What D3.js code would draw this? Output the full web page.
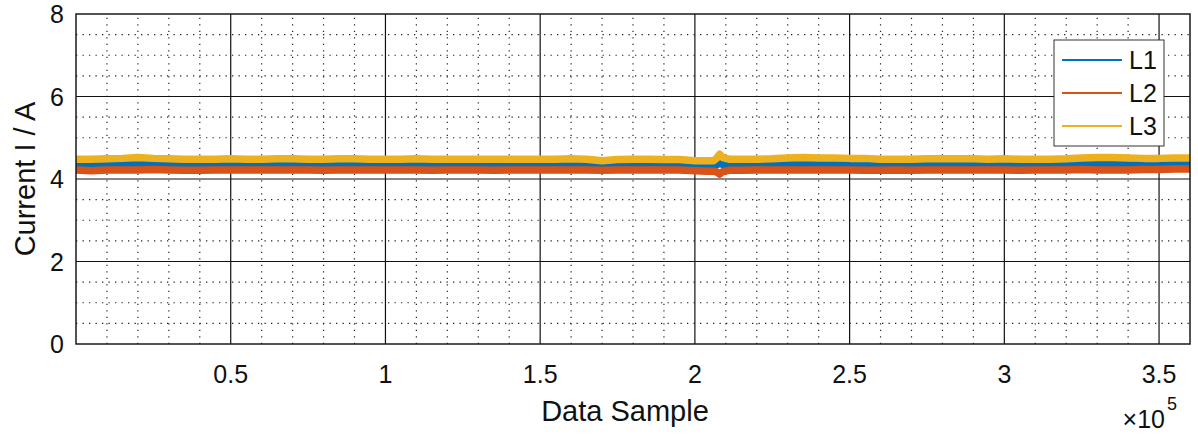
<!DOCTYPE html>
<html>
<head>
<meta charset="utf-8">
<script src="https://cdn.jsdelivr.net/npm/d3@7"></script>
<style>
  html, body { margin: 0; padding: 0; background: #fff; }
  svg { display: block; font-family: "Liberation Sans", Arial, Helvetica, sans-serif; }
</style>
</head>
<body>
<svg id="chart" width="1198" height="434"></svg>
<script>
// Sample index of each reading (denser around the transient near 2.08e5)
const samples = [
  0, 5000, 10000, 15000, 20000, 25000, 30000, 35000, 40000, 45000, 50000,
  55000, 60000, 65000, 70000, 75000, 80000, 85000, 90000, 95000, 100000,
  105000, 110000, 115000, 120000, 125000, 130000, 135000, 140000, 145000, 150000,
  155000, 160000, 165000, 170000, 175000, 180000, 185000, 190000, 195000, 200000,
  204000, 206000, 207000, 208000, 209000, 211000, 215000,
  220000, 225000, 230000, 235000, 240000, 245000, 250000, 255000, 260000, 265000,
  270000, 275000, 280000, 285000, 290000, 295000, 300000, 305000, 310000, 315000,
  320000, 325000, 330000, 335000, 340000, 345000, 350000, 355000, 360000
];

// Phase currents in A
const currentL1 = [
  4.36, 4.36, 4.37, 4.36, 4.37, 4.36, 4.35, 4.34, 4.33, 4.34, 4.35,
  4.36, 4.36, 4.35, 4.36, 4.36, 4.35, 4.36, 4.36, 4.35, 4.35,
  4.35, 4.36, 4.35, 4.35, 4.36, 4.35, 4.35, 4.35, 4.35, 4.35,
  4.35, 4.35, 4.35, 4.34, 4.35, 4.35, 4.35, 4.35, 4.35, 4.33,
  4.32, 4.32, 4.34, 4.41, 4.35, 4.34, 4.35,
  4.35, 4.36, 4.37, 4.37, 4.37, 4.37, 4.36, 4.36, 4.35, 4.36,
  4.35, 4.36, 4.36, 4.36, 4.36, 4.36, 4.37, 4.37, 4.37, 4.37,
  4.37, 4.37, 4.38, 4.38, 4.37, 4.37, 4.38, 4.38, 4.39
];
const currentL2 = [
  4.22, 4.20, 4.22, 4.22, 4.22, 4.23, 4.22, 4.21, 4.21, 4.22, 4.22,
  4.22, 4.22, 4.22, 4.22, 4.22, 4.21, 4.22, 4.22, 4.22, 4.22,
  4.22, 4.22, 4.21, 4.22, 4.22, 4.22, 4.21, 4.22, 4.22, 4.22,
  4.22, 4.22, 4.22, 4.21, 4.22, 4.22, 4.22, 4.22, 4.22, 4.20,
  4.19, 4.19, 4.17, 4.12, 4.18, 4.21, 4.21,
  4.22, 4.22, 4.22, 4.22, 4.22, 4.22, 4.22, 4.21, 4.21, 4.22,
  4.21, 4.22, 4.22, 4.22, 4.22, 4.22, 4.22, 4.21, 4.22, 4.22,
  4.22, 4.23, 4.22, 4.22, 4.22, 4.23, 4.23, 4.24, 4.24
];
const currentL3 = [
  4.48, 4.48, 4.49, 4.50, 4.52, 4.50, 4.49, 4.48, 4.48, 4.48, 4.49,
  4.48, 4.48, 4.49, 4.49, 4.48, 4.48, 4.49, 4.49, 4.48, 4.48,
  4.48, 4.49, 4.48, 4.48, 4.48, 4.48, 4.48, 4.48, 4.48, 4.48,
  4.48, 4.49, 4.48, 4.44, 4.47, 4.48, 4.48, 4.47, 4.47, 4.44,
  4.44, 4.44, 4.50, 4.60, 4.52, 4.48, 4.48,
  4.48, 4.49, 4.51, 4.52, 4.51, 4.51, 4.50, 4.50, 4.48, 4.48,
  4.48, 4.49, 4.49, 4.49, 4.49, 4.48, 4.49, 4.48, 4.48, 4.48,
  4.49, 4.51, 4.52, 4.52, 4.51, 4.50, 4.50, 4.51, 4.51
];

const seriesNames = ["L1", "L2", "L3"];
const seriesColors = ["#0072BD", "#D95319", "#EDB120"];
const seriesValues = [currentL1, currentL2, currentL3];

const xMajorTicks = [50000, 100000, 150000, 200000, 250000, 300000, 350000];
const xTickLabels = ["0.5", "1", "1.5", "2", "2.5", "3", "3.5"];
const yMajorTicks = [0, 2, 4, 6, 8];

const svg = d3.select("#chart");
const margin = { left: 76, right: 8, top: 14, bottom: 90 };
const W = 1198, H = 434;
const x = d3.scaleLinear().domain([0, 360000]).range([margin.left, W - margin.right]);
const y = d3.scaleLinear().domain([0, 8]).range([H - margin.bottom, margin.top]);

const x0 = x.range()[0], x1 = x.range()[1];
const y0 = y.range()[0], y1 = y.range()[1];

// Minor grid (dotted)
const grid = svg.append("g");
const xMinor = d3.range(10000, 360000, 10000).filter(v => v % 50000 !== 0);
const yMinor = d3.range(0.5, 8, 0.5).filter(v => v % 2 !== 0);
grid.selectAll("line.xm").data(xMinor).join("line")
  .attr("x1", d => x(d)).attr("x2", d => x(d))
  .attr("y1", y0).attr("y2", y1)
  .attr("stroke", "#222").attr("stroke-width", 1.2)
  .attr("stroke-dasharray", "1.3,5.2");
grid.selectAll("line.ym").data(yMinor).join("line")
  .attr("y1", d => y(d)).attr("y2", d => y(d))
  .attr("x1", x0).attr("x2", x1)
  .attr("stroke", "#222").attr("stroke-width", 1.2)
  .attr("stroke-dasharray", "1.3,5.2");

// Major grid (solid)
grid.selectAll("line.xM").data(xMajorTicks).join("line")
  .attr("x1", d => x(d)).attr("x2", d => x(d))
  .attr("y1", y0).attr("y2", y1)
  .attr("stroke", "#111").attr("stroke-width", 1.2);
grid.selectAll("line.yM").data(yMajorTicks.slice(1, -1)).join("line")
  .attr("y1", d => y(d)).attr("y2", d => y(d))
  .attr("x1", x0).attr("x2", x1)
  .attr("stroke", "#111").attr("stroke-width", 1.2);

// Data lines
const line = d3.line().x((d, i) => x(samples[i])).y(d => y(d));
svg.append("g").selectAll("path").data(seriesValues).join("path")
  .attr("d", d => line(d))
  .attr("fill", "none")
  .attr("stroke", (d, i) => seriesColors[i])
  .attr("stroke-width", 7.5)
  .attr("stroke-linejoin", "round");

// Axes box
svg.append("rect")
  .attr("x", x0).attr("y", y1)
  .attr("width", x1 - x0).attr("height", y0 - y1)
  .attr("fill", "none").attr("stroke", "#1a1a1a").attr("stroke-width", 1.5);

// Tick labels
const fs = 25;
svg.append("g").selectAll("text").data(xMajorTicks).join("text")
  .attr("x", d => x(d)).attr("y", y0 + 39)
  .attr("text-anchor", "middle")
  .attr("font-size", fs).attr("fill", "#111")
  .text((d, i) => xTickLabels[i]);
svg.append("g").selectAll("text").data(yMajorTicks).join("text")
  .attr("x", x0 - 12).attr("y", d => y(d) + 9)
  .attr("text-anchor", "end")
  .attr("font-size", fs).attr("fill", "#111")
  .text(d => d);

// Axis titles
const lfs = 29;
svg.append("text")
  .attr("x", (x0 + x1) / 2 - 8).attr("y", 421)
  .attr("text-anchor", "middle").attr("font-size", lfs).attr("fill", "#111")
  .text("Data Sample");
svg.append("text")
  .attr("transform", `translate(35,${(y0 + y1) / 2}) rotate(-90)`)
  .attr("text-anchor", "middle").attr("font-size", lfs).attr("fill", "#111")
  .text("Current I / A");

// Exponent multiplier
svg.append("text")
  .attr("x", x1 - 25).attr("y", 428)
  .attr("text-anchor", "end").attr("font-size", fs).attr("fill", "#111")
  .text("×10");
svg.append("text")
  .attr("x", x1 - 23).attr("y", 410)
  .attr("font-size", 18).attr("fill", "#111")
  .text("5");

// Legend
const lg = svg.append("g");
lg.append("rect")
  .attr("x", 1054).attr("y", 40).attr("width", 110).attr("height", 106)
  .attr("fill", "#fff").attr("stroke", "#333").attr("stroke-width", 1);
seriesNames.forEach((name, i) => {
  const yy = 60 + i * 33;
  lg.append("line")
    .attr("x1", 1062).attr("x2", 1122).attr("y1", yy).attr("y2", yy)
    .attr("stroke", seriesColors[i]).attr("stroke-width", 2.2);
  lg.append("text")
    .attr("x", 1129).attr("y", yy + 9)
    .attr("font-size", fs).attr("fill", "#111")
    .text(name);
});
</script>
</body>
</html>
